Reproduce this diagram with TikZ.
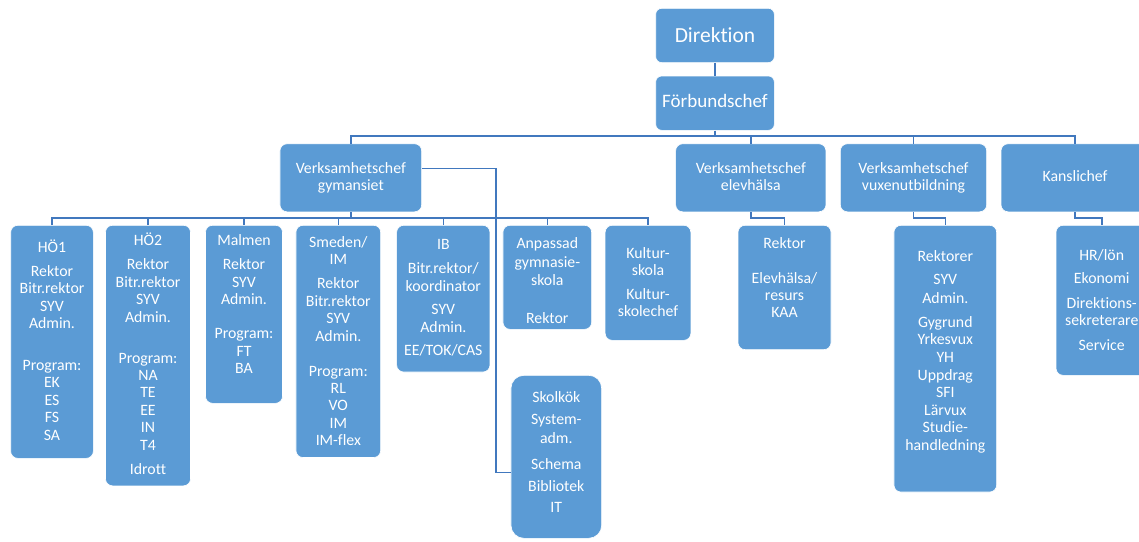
\documentclass[tikz,border=0pt]{standalone}
\usepackage{fontspec}
\setmainfont{Carlito}[Ligatures=CommonOff]
\usetikzlibrary{positioning}
\definecolor{unitblue}{HTML}{5B9BD5}
\definecolor{linkblue}{HTML}{4178BE}

\begin{document}
\begin{tikzpicture}[x=1pt,y=-1pt,
  unit/.style={rectangle,rounded corners=7pt,fill=unitblue,draw=white,line width=0.6pt,
    text=white,align=center,inner sep=0pt,anchor=north,font=\fontsize{15.8pt}{17.4pt}\selectfont},
  link/.style={draw=linkblue,line width=1.6pt}]
  \useasboundingbox (0,0) rectangle (1139,541);

  \node[unit,text width=118.6pt,text height=34.5pt,text depth=19.8pt,rounded corners=6pt,
        font=\fontsize{21.5pt}{24pt}\selectfont]	(dir)	at (715,8)	{Direktion};
  \node[unit,text width=118.6pt,text height=31.5pt,text depth=22.8pt,rounded corners=6pt,
        font=\fontsize{19pt}{22pt}\selectfont]	(forb)	at (715,75.7)	{Förbundschef};

  \node[unit,text width=141.7pt,text height=29.3pt,text depth=38.7pt]	(gym)	at (350.8,143.5)	{Verksamhetschef\\gymansiet};
  \node[unit,text width=150.3pt,text height=29.3pt,text depth=38.7pt]	(elev)	at (750.8,143.5)	{Verksamhetschef\\elevhälsa};
  \node[unit,text width=146.4pt,text height=29.3pt,text depth=38.7pt]	(vux)	at (913.5,143.5)	{Verksamhetschef\\vuxenutbildning};
  \node[unit,text width=148pt,text height=37.7pt,text depth=30.3pt]	(kansli)	at (1075,143.5)	{Kanslichef};

  \node[unit,text width=82.6pt,text height=27.5pt,text depth=205.5pt]	(hoe1)	at (52,225)
    {HÖ1\\[6.3pt]Rektor\\Bitr.rektor\\SYV\\Admin.\\[24.3pt]Program:\\EK\\ES\\FS\\SA};
  \node[unit,text width=85pt,text height=20.5pt,text depth=240pt]	(hoe2)	at (148,225)
    {HÖ2\\[6.6pt]Rektor\\Bitr.rektor\\SYV\\Admin.\\[23.6pt]Program:\\NA\\TE\\EE\\IN\\T4\\[6.6pt]Idrott};
  \node[unit,text width=77pt,text height=20.5pt,text depth=157.5pt]	(malmen)	at (244,225)
    {Malmen\\[6.6pt]Rektor\\SYV\\Admin.\\[16.6pt]Program:\\FT\\BA};
  \node[unit,text width=84.7pt,text height=22.2pt,text depth=210pt]	(smeden)	at (338.3,225)
    {Smeden/\\IM\\[6.6pt]Rektor\\Bitr.rektor\\SYV\\Admin.\\[17.6pt]Program:\\RL\\VO\\IM\\IM-flex};
  \node[unit,text width=93.3pt,text height=24.5pt,text depth=122.2pt]	(ib)	at (443.3,225)
    {IB\\[6.6pt]Bitr.rektor/\\koordinator\\[6pt]SYV\\Admin.\\[6.3pt]EE/TOK/CAS};
  \node[unit,text width=88.7pt,text height=22.8pt,text depth=81.2pt]	(anpassad)	at (547.3,225)
    {Anpassad\\[2pt]gymnasie-\\[0.9pt]skola\\[19.9pt]Rektor};
  \node[unit,text width=85.7pt,text height=32.8pt,text depth=82.2pt]	(kultur)	at (648,225)
    {Kultur-\\skola\\[6.6pt]Kultur-\\skolechef};
  \node[unit,text width=90.7pt,text height=26.8pt,text depth=136.2pt,rounded corners=13pt]	(skol)	at (556.3,375)
    {Skolkök\\[4.6pt]System-\\[1.6pt]adm.\\[8.6pt]Schema\\[5pt]Bibliotek\\[3.6pt]IT};

  \node[unit,text width=93pt,text height=22.8pt,text depth=101.5pt]	(rektor)	at (784.5,225)
    {Rektor\\[17.6pt]Elevhälsa/\\resurs\\KAA};
  \node[unit,text width=102.7pt,text height=36.2pt,text depth=230.5pt]	(rektorer)	at (945.3,225)
    {Rektorer\\[6pt]SYV\\[1pt]Admin.\\[6.6pt]Gygrund\\Yrkesvux\\YH\\[1pt]Uppdrag\\SFI\\Lärvux\\Studie-\\handledning};
  \node[unit,text width=91.4pt,text height=35.2pt,text depth=114.8pt]	(hr)	at (1101.7,225)
    {HR/lön\\[6pt]Ekonomi\\[7pt]Direktions-\\sekreterare\\[7pt]Service};

  % connectors
  \coordinate (topbus) at (0,136);
  \coordinate (gymbus) at (0,218);

  \draw[link] (dir) -- (forb);
  \draw[link] (forb.south) -- (forb.south |- topbus);
  \draw[link] (gym.north) -- (gym.north |- topbus) -| (kansli.north);
  \foreach \n in {elev,vux}
    \draw[link] (\n.north) -- (\n.north |- topbus);

  \draw[link] (gym.south) -- (gym.south |- gymbus);
  \draw[link] (hoe1.north) -- (hoe1.north |- gymbus) -| (kultur.north);
  \foreach \n in {hoe2,malmen,smeden,ib,anpassad}
    \draw[link] (\n.north) -- (\n.north |- gymbus);
  \draw[link] ([yshift=9.3pt]gym.east) -- ++(74,0) |- ([yshift=-15.5pt]skol.west);

  \draw[link] (elev.south) -- (elev.south |- gymbus) -| (rektor.north);
  \draw[link] (vux.south) -- (vux.south |- gymbus) -| (rektorer.north);
  \draw[link] (kansli.south) -- (kansli.south |- gymbus) -| (hr.north);
\end{tikzpicture}
\end{document}
